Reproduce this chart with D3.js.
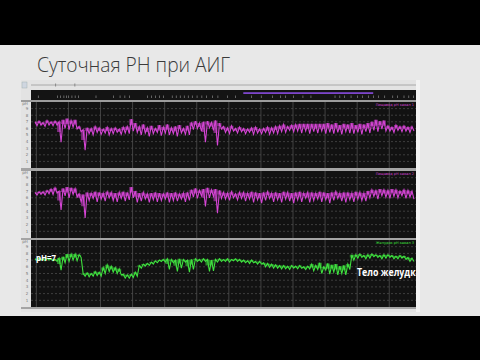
<!DOCTYPE html>
<html>
<head>
<meta charset="utf-8">
<title>Суточная РН при АИГ</title>
<style>
  body { margin:0; background:#000; }
  svg { display:block; }
  .grid-h { stroke:#5c5c5c; stroke-width:0.6; stroke-dasharray:2,2; }
  .grid-v { stroke:#4e4e4e; stroke-width:0.8; }
  .tick { font-family:"DejaVu Sans",sans-serif; font-size:4px; fill:#777; }
  .legend { font-family:"DejaVu Sans",sans-serif; font-size:3.5px; }
  .note { font-family:"Open Sans",sans-serif; font-weight:700; fill:#fff; }
</style>
<script src="https://cdn.jsdelivr.net/npm/d3@7"></script>
</head>
<body>
<script>
// recording: 15 min steps starting 11:55, hours continue past 24
var startHour = 11.917, stepHour = 0.25;
var yTicks = [1, 2, 3, 4, 5, 6, 7, 8, 9];
var gridHours = [12, 14, 16, 18, 20, 22, 24, 26, 28, 30, 32, 34];

// panel 1 - magenta, upper and lower edge of trace (pH)
var p1Hi = [7.0,7.1,6.9,7.2,7.0,7.1,7.0, 7.3,7.5,7.2,7.3, 6.3, 5.8,
  6.1,6.0,6.3,6.1,5.9,6.2,6.0,6.1,5.9,6.2,6.3, 7.4, 6.8,
  6.3,6.6,6.1,6.4,6.0,6.5,6.2,6.6,6.1,6.3,6.5,6.0,6.4,
  6.9,7.1,6.8,7.0,7.1,6.9,7.2,6.8, 6.3,6.1,6.4,6.0,6.2,
  6.0,5.9,6.1,6.2,5.9,6.0,6.2,6.1,6.3, 6.4,6.6,6.3,6.5,6.6,
  6.7,6.7,6.7,6.7,6.7,6.7,6.7,6.8, 6.6,6.8,6.5,6.7,6.6,6.8,6.5,6.7,6.6,6.8,
  7.0,7.3,7.1,7.2, 6.4,6.2,6.5,6.3,6.4,6.2,6.3];
var p1Lo = [6.4,6.5,6.3,6.5,6.4,6.5,3.9, 6.0,5.8,6.2,5.9, 5.5, 2.7,
  5.2,5.0,5.4,5.1,5.3,5.0,5.2,5.4,5.1,5.3,5.2, 5.6, 5.4,
  5.0,5.3,4.8,5.2,5.4,4.9,5.3,5.0,5.2,4.8,5.3,5.1,5.0,
  5.8,6.0,5.6,3.9,6.1,5.7,3.4,5.9, 5.4,5.2,5.6,5.3,5.5,
  5.2,5.4,5.1,5.3,5.2,5.4,5.1,5.3,5.2, 5.5,5.4,5.7,5.5,5.6,
  5.3,5.6,5.2,5.5,5.3,5.6,5.2,5.4, 5.2,5.4,5.1,5.5,5.3,5.2,5.4,5.1,5.5,5.3,
  5.7,5.5,5.9,5.6, 5.6,5.4,5.7,5.5,5.6,5.4,5.6];

// panel 2 - magenta
var p2Hi = [6.8,6.9,6.9,7.1,7.3,7.5, 7.0, 7.4,7.6,7.5,7.4, 6.6, 6.5,
  6.8,6.7,6.9,6.8,6.7,6.9,6.8,6.7,6.8,6.9,6.8, 7.6, 7.0,
  6.7,6.8,6.6,6.7,6.8,6.7,6.6,6.8,6.7,6.8,6.6,6.7,6.8,
  7.2,7.4,7.1,7.3,7.5,7.2,7.3,7.1, 6.8,6.7,6.9,6.6,6.8,
  6.8,6.7,6.9,6.8,6.7,6.8,6.9,6.7,6.8,6.7,6.9,6.8,6.7,6.8,6.9,6.7,
  6.8,6.8,6.7,6.9,6.8,6.7,6.8,6.9,6.7,6.8,6.8,6.7,6.9,6.8,6.7,
  7.0,7.2,7.1,7.3,7.2,7.1,7.3,7.2,7.0,7.2,7.1,7.0];
var p2Lo = [6.4,6.5,6.4,6.6,6.5,6.7, 4.2, 6.3,6.0,6.5,6.1, 5.4, 3.0,
  5.6,5.9,5.4,5.8,5.5,6.0,5.6,5.4,5.9,5.5,5.7, 6.0, 5.3,
  5.5,5.8,5.3,5.7,5.4,5.6,5.8,5.3,5.6,5.5,5.8,5.4,5.6,
  6.1,5.9,6.3,4.7,6.0,6.2,3.7,5.9, 5.8,5.6,6.0,5.7,5.9,
  5.5,5.8,5.3,5.7,5.2,5.6,5.9,5.4,5.7,5.3,5.8,5.5,5.2,5.7,5.4,5.9,
  5.3,5.6,5.8,5.4,5.7,5.2,5.6,5.9,5.5,5.3,5.7,5.4,5.8,5.6,5.5,
  6.0,6.2,5.8,6.3,6.1,5.9,6.2,6.0,6.3,5.9,6.1,5.8];

// panel 3 - green, stomach body
var p3Hi = [7.2,7.3,7.2,7.3,7.2, 7.1, 7.3, 7.5, 7.9,7.9,7.9,7.8, 5.0,
  5.1,5.0,5.3,5.2, 5.9,6.3,6.1,5.9,5.7, 4.9,4.8,4.9,5.2, 6.2,
  6.4,6.5,6.7,6.9,
  7.0,7.1,7.2,7.1,7.0,7.2,7.1,7.0,7.1,7.2,7.1,7.2,7.1,7.0,7.1,7.2,
  7.1,7.2,7.1,7.2,7.1, 7.0,6.9,7.0,6.8,6.8,
  6.6,6.5,6.4,6.3,6.2,6.2,6.1, 6.2,6.1,6.2,6.0,6.1,
  6.4,6.2,6.6,6.0,6.5,6.3,6.4,6.1,6.2,6.4, 7.8,
  7.8,7.9,7.7,7.8,7.9,7.8,7.7,7.8,7.8,7.7,7.6,7.7,7.6,7.4,7.3];
var p3Lo = [6.9,7.0,6.9,7.0,6.9, 6.8, 5.5, 6.6, 6.8,7.0,6.9,7.4, 4.6,
  4.5,4.6,4.7,4.6, 5.0,5.3,5.2,5.0,4.8, 4.3,4.3,4.4,4.6, 5.8,
  6.1,6.2,6.4,6.6,
  6.8,6.7,5.6,6.6,5.3,5.8,6.7,5.2,5.6,6.8,6.7,6.8,5.3,5.4,6.7,6.8,
  6.8,6.7,6.9,6.8,6.7, 6.6,6.5,6.6,6.4,6.4,
  6.0,5.9,5.8,5.8,5.7,5.7,5.6, 5.8,5.7,5.8,5.6,5.7,
  5.4,5.6,5.0,5.5,4.9,5.2,4.8,5.0,4.8,5.6, 7.0,
  7.3,7.4,7.2,7.3,7.5,7.4,7.2,7.3,7.4,7.2,7.2,7.3,7.1,6.8,6.8];

// event marks on the time bar (hours) and the purple period
var eventHours = [12.1,13.3,13.5,13.7,13.85,14.0,14.2,14.4,14.6,15.7,16.8,17.2,17.5,17.8,
  18.9,19.15,19.4,19.65,19.9,20.45,20.7,20.95,21.2,21.45,21.7,22.0,22.3,22.6,22.95,23.3,
  23.9,24.4,25.4,26.0,26.7,27.2,27.5,28.0,28.6,29.1,30.6,30.9,31.2,31.6,32.0,32.3,32.7,
  33.0,33.3,33.7,34.2,34.5,34.9,35.2,35.5];
var periodHours = [24.9, 33.0];
var sliderHours = [13.2, 14.4];

var width = 480, height = 360;

var svg = d3.select("body").append("svg")
    .attr("width", width)
    .attr("height", height);

// black bars + slide
svg.append("rect").attr("width", width).attr("height", height).attr("fill", "#000");
svg.append("rect").attr("x", 0).attr("y", 45).attr("width", width).attr("height", 271).attr("fill", "#e8e8e8");

svg.append("text")
    .attr("x", 37).attr("y", 72)
    .attr("textLength", 193).attr("lengthAdjust", "spacingAndGlyphs")
    .style("font-family", "'Open Sans', sans-serif")
    .style("font-weight", 300)
    .style("font-size", "21px")
    .style("fill", "#3a3a3a")
    .text("Суточная РН при АИГ");

var x = d3.scaleLinear().domain([11.667, 35.667]).range([31, 416]);

// app window
svg.append("rect").attr("x", 21).attr("y", 80).attr("width", 399).attr("height", 232).attr("fill", "#e3e3e3");
svg.append("rect").attr("x", 416).attr("y", 80).attr("width", 4).attr("height", 232).attr("fill", "#f3f3f3");
svg.append("rect").attr("x", 22).attr("y", 82).attr("width", 5).attr("height", 6).attr("fill", "#cfd6e0").attr("stroke", "#9aa").attr("stroke-width", 0.4);

// slider line
svg.append("line").attr("x1", x(11.667)).attr("x2", x(35.667)).attr("y1", 85).attr("y2", 85)
    .attr("stroke", "#9a9a9a").attr("stroke-width", 0.8);
svg.selectAll(".slider").data(sliderHours).enter().append("line")
    .attr("x1", d => x(d)).attr("x2", d => x(d)).attr("y1", 83.5).attr("y2", 86.5)
    .attr("stroke", "#777").attr("stroke-width", 0.8);

// time bar
svg.append("rect").attr("x", 31).attr("y", 90).attr("width", 385).attr("height", 10).attr("fill", "#141414");
svg.append("rect").attr("x", x(periodHours[0])).attr("y", 92.2)
    .attr("width", x(periodHours[1]) - x(periodHours[0])).attr("height", 1.8).attr("fill", "#7d46cc");
svg.selectAll(".ev").data(eventHours).enter().append("rect")
    .attr("x", d => x(d)).attr("y", 95.5).attr("width", 0.6).attr("height", 2.5)
    .attr("fill", "#9a9a9a");
svg.append("rect").attr("x", 21).attr("y", 100).attr("width", 395).attr("height", 2).attr("fill", "#9c9c9c");

var panels = [
  { top: 102, bottom: 168, hi: p1Hi, lo: p1Lo, color: "#d545d5", legend: "Пищевод pH канал 1" },
  { top: 171, bottom: 238, hi: p2Hi, lo: p2Lo, color: "#d545d5", legend: "Пищевод pH канал 2" },
  { top: 240, bottom: 307, hi: p3Hi, lo: p3Lo, color: "#3fe23f", legend: "Желудок pH канал 3" }
];

panels.forEach(function(p, k) {
  var y = d3.scaleLinear().domain([0, 10]).range([p.bottom, p.top]);
  var g = svg.append("g");

  g.append("rect").attr("x", 31).attr("y", p.top).attr("width", 385)
      .attr("height", p.bottom - p.top).attr("fill", "#121212");

  g.selectAll(".gh").data(yTicks).enter().append("line")
      .attr("class", "grid-h")
      .attr("x1", 31).attr("x2", 416)
      .attr("y1", d => y(d)).attr("y2", d => y(d));
  g.selectAll(".gv").data(gridHours).enter().append("line")
      .attr("class", "grid-v")
      .attr("x1", d => x(d)).attr("x2", d => x(d))
      .attr("y1", p.top).attr("y2", p.bottom);

  g.selectAll(".tk").data(yTicks).enter().append("text")
      .attr("class", "tick")
      .attr("x", 27).attr("y", d => y(d) + 1.4)
      .attr("text-anchor", "middle")
      .text(d => d);
  g.append("text").attr("class", "tick").attr("x", 25).attr("y", p.top + 2.5)
      .attr("text-anchor", "middle").text("pH");

  g.append("text").attr("class", "legend")
      .attr("x", 414).attr("y", p.top + 3.5).attr("text-anchor", "end")
      .attr("fill", p.color).text(p.legend);

  // zigzag between upper and lower edge
  var pts = [];
  var band = [];
  p.hi.forEach(function(v, i) {
    var t = startHour + i * stepHour;
    pts.push([t, v]);
    pts.push([t + stepHour / 2, p.lo[i]]);
    band.push([t, v, (v + p.lo[i]) / 2]);
  });

  var clipId = "clip" + k;
  svg.append("clipPath").attr("id", clipId).append("rect")
      .attr("x", 31).attr("y", p.top).attr("width", 385).attr("height", p.bottom - p.top);

  // dense part of the noisy trace
  g.append("path")
      .datum(band)
      .attr("clip-path", "url(#" + clipId + ")")
      .attr("fill", p.color)
      .attr("fill-opacity", 0.55)
      .attr("d", d3.area().curve(d3.curveStep).x(d => x(d[0])).y0(d => y(d[2])).y1(d => y(d[1])));

  g.append("path")
      .datum(pts)
      .attr("clip-path", "url(#" + clipId + ")")
      .attr("fill", "none")
      .attr("stroke", p.color)
      .attr("stroke-width", 1.1)
      .attr("d", d3.line().x(d => x(d[0])).y(d => y(d[1])));

  svg.append("rect").attr("x", 21).attr("y", p.bottom).attr("width", 395)
      .attr("height", k < 2 ? (panels[k + 1].top - p.bottom) : 2).attr("fill", "#a4a4a4");
});

// annotations
svg.append("text").attr("class", "note")
    .attr("x", 36).attr("y", 261)
    .attr("textLength", 20).attr("lengthAdjust", "spacingAndGlyphs")
    .style("font-size", "9.5px")
    .text("pH=7");

svg.append("clipPath").attr("id", "clipNote").append("rect")
    .attr("x", 0).attr("y", 0).attr("width", 416).attr("height", 360);
svg.append("text").attr("class", "note")
    .attr("clip-path", "url(#clipNote)")
    .attr("x", 357).attr("y", 275.5)
    .attr("textLength", 64).attr("lengthAdjust", "spacingAndGlyphs")
    .style("font-size", "10.5px")
    .text("Тело желудка");
</script>
</body>
</html>
